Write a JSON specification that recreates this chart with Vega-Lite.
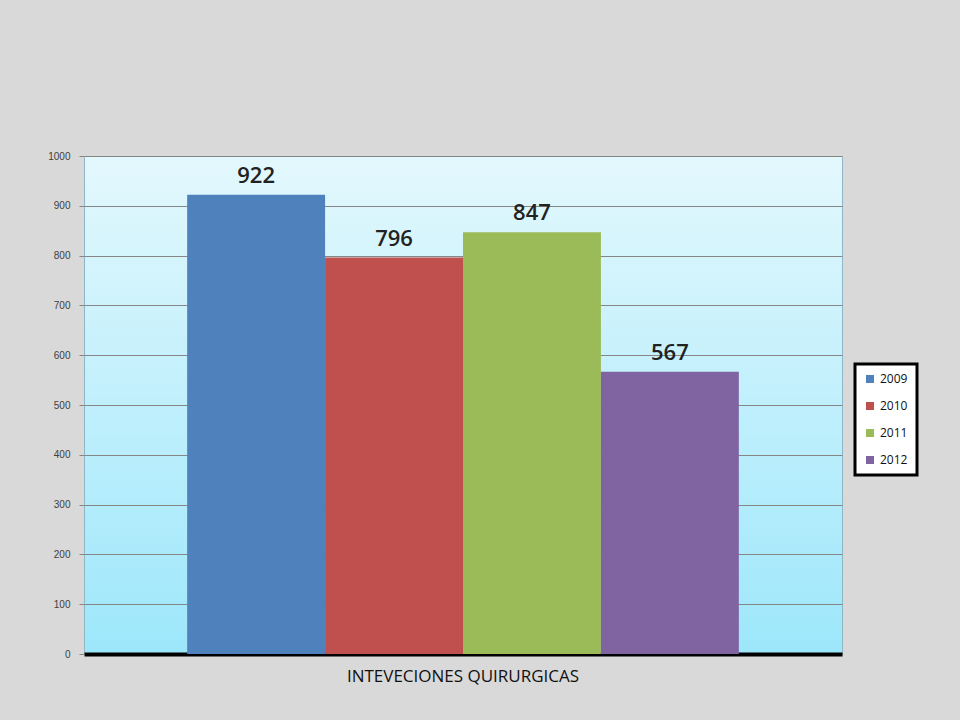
{
  "$schema": "https://vega.github.io/schema/vega-lite/v6.json",
  "width": 758,
  "height": 498,
  "autosize": "none",
  "padding": {"left": 84, "top": 156, "right": 118, "bottom": 66},
  "background": "#d9d9d9",
  "data": {
    "values": [
      {"categoria": "INTEVECIONES QUIRURGICAS", "anio": "2009", "valor": 922},
      {"categoria": "INTEVECIONES QUIRURGICAS", "anio": "2010", "valor": 796},
      {"categoria": "INTEVECIONES QUIRURGICAS", "anio": "2011", "valor": 847},
      {"categoria": "INTEVECIONES QUIRURGICAS", "anio": "2012", "valor": 567}
    ]
  },
  "encoding": {
    "x": {
      "field": "categoria",
      "type": "nominal",
      "scale": {"paddingInner": 0, "paddingOuter": 0.187},
      "axis": {
        "title": null,
        "labelAngle": 0,
        "labelFont": "Open Sans",
        "labelFontSize": 17,
        "labelLimit": 500,
        "labelColor": "#111111",
        "labelPadding": 14,
        "ticks": false,
        "domainColor": "#000000",
        "domainWidth": 4
      }
    },
    "xOffset": {"field": "anio", "type": "nominal", "scale": {"paddingInner": 0, "paddingOuter": 0}},
    "y": {
      "field": "valor",
      "type": "quantitative",
      "scale": {"domain": [0, 1000], "nice": false},
      "axis": {
        "title": null,
        "format": "d",
        "values": [0, 100, 200, 300, 400, 500, 600, 700, 800, 900, 1000],
        "labelFont": "Liberation Sans",
        "labelFontSize": 10,
        "labelColor": "#404040",
        "labelPadding": 9,
        "tickSize": 5,
        "tickColor": "#868686",
        "gridColor": "#868686",
        "gridOpacity": 1,
        "domain": false
      }
    }
  },
  "layer": [
    {
      "mark": {"type": "bar"},
      "encoding": {
        "color": {
          "field": "anio",
          "type": "nominal",
          "scale": {"domain": ["2009", "2010", "2011", "2012"], "range": ["#4f81bd", "#c0504d", "#9bbb59", "#8064a2"]},
          "legend": {
            "title": null,
            "orient": "none",
            "legendX": 771,
            "legendY": 208,
            "symbolType": "square",
            "symbolSize": 64,
            "symbolStrokeWidth": 0,
            "labelFont": "Open Sans",
            "labelFontSize": 12,
            "labelColor": "#111111",
            "rowPadding": 15,
            "padding": 9,
            "fillColor": "#ffffff",
            "strokeColor": "#000000",
            "encode": {"legend": {"update": {"strokeWidth": {"value": 3}}}}
          }
        }
      }
    },
    {
      "mark": {"type": "text", "baseline": "bottom", "dy": -7, "font": "Open Sans", "fontSize": 22, "fontWeight": 600, "color": "#222222"},
      "encoding": {"text": {"field": "valor", "type": "quantitative"}}
    }
  ],
  "config": {
    "view": {
      "fill": {
        "gradient": "linear",
        "x1": 0, "y1": 0, "x2": 0, "y2": 1,
        "stops": [
          {"offset": 0, "color": "#e3f8fd"},
          {"offset": 1, "color": "#9de7fb"}
        ]
      },
      "stroke": "#8fb6c4",
      "strokeWidth": 1
    }
  }
}
